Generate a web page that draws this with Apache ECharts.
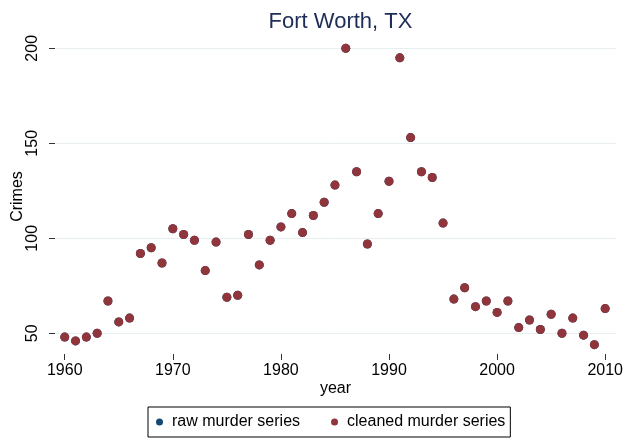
<!DOCTYPE html>
<html>
<head>
<meta charset="utf-8">
<script src="https://cdn.jsdelivr.net/npm/echarts@6/dist/echarts.min.js"></script>
<style>
  html, body { margin: 0; padding: 0; background: #fff; }
  #chart { width: 636px; height: 438px; }
</style>
</head>
<body>
<div id="chart"></div>
<script>
// data
const years = [1960, 1961, 1962, 1963, 1964, 1965, 1966, 1967, 1968, 1969,
  1970, 1971, 1972, 1973, 1974, 1975, 1976, 1977, 1978, 1979,
  1980, 1981, 1982, 1983, 1984, 1985, 1986, 1987, 1988, 1989,
  1990, 1991, 1992, 1993, 1994, 1995, 1996, 1997, 1998, 1999,
  2000, 2001, 2002, 2003, 2004, 2005, 2006, 2007, 2008, 2009, 2010]
const rawMurders = [48, 46, 48, 50, 67, 56, 58, 92, 95, 87,
  105, 102, 99, 83, 98, 69, 70, 102, 86, 99,
  106, 113, 103, 112, 119, 128, 200, 135, 97, 113,
  130, 195, 153, 135, 132, 108, 68, 74, 64, 67,
  61, 67, 53, 57, 52, 60, 50, 58, 49, 44, 63]
const cleanedMurders = [48, 46, 48, 50, 67, 56, 58, 92, 95, 87,
  105, 102, 99, 83, 98, 69, 70, 102, 86, 99,
  106, 113, 103, 112, 119, 128, 200, 135, 97, 113,
  130, 195, 153, 135, 132, 108, 68, 74, 64, 67,
  61, 67, 53, 57, 52, 60, 50, 58, 49, 44, 63]
const yTicks = [50, 100, 150, 200]
const xTicks = [1960, 1970, 1980, 1990, 2000, 2010]

const font = "'Liberation Sans', Arial, sans-serif"
const chart = echarts.init(document.getElementById('chart'))

const option = {
  animation: false,
  textStyle: { fontFamily: font },
  title: {
    text: 'Fort Worth, TX',
    left: 335.5,
    textAlign: 'center',
    top: 6,
    textStyle: { fontFamily: font, fontSize: 22, fontWeight: 'normal', color: '#1e2d58' }
  },
  grid: { left: 55, right: 20, top: 39, bottom: 84, outerBoundsMode: 'none', containLabel: false },
  legend: {
    left: 148,
    top: 407,
    orient: 'horizontal',
    borderColor: '#000',
    borderWidth: 1,
    borderRadius: 0,
    padding: [7, 5, 7, 8],
    itemWidth: 15,
    itemHeight: 7,
    itemGap: 31,
    icon: 'circle',
    textStyle: { fontFamily: font, fontSize: 16, color: '#000' },
    data: ['raw murder series', 'cleaned murder series']
  },
  xAxis: {
    type: 'value',
    min: 1959.1,
    max: 2011,
    name: 'year',
    nameLocation: 'middle',
    nameGap: 27,
    nameMoveOverlap: false,
    nameTextStyle: { fontFamily: font, fontSize: 16, color: '#000' },
    axisLine: { show: false },
    axisTick: { show: true, length: 6, customValues: xTicks, lineStyle: { color: '#333' } },
    axisLabel: {
      customValues: xTicks, margin: 9, fontSize: 16, color: '#000', fontFamily: font,
      formatter: v => String(v)
    },
    splitLine: { show: false }
  },
  yAxis: {
    type: 'value',
    min: 39.1,
    max: 204.9,
    name: 'Crimes',
    nameLocation: 'middle',
    nameGap: 29,
    nameMoveOverlap: false,
    nameTextStyle: { fontFamily: font, fontSize: 16, color: '#000' },
    axisLine: { show: false },
    axisTick: { show: true, length: 6, customValues: yTicks, lineStyle: { color: '#333' } },
    axisLabel: { customValues: yTicks, rotate: 90, margin: 14, fontSize: 16, color: '#000', fontFamily: font },
    splitLine: { show: true, lineStyle: { color: '#e6eef0', width: 1 } }
  },
  series: [
    {
      name: 'raw murder series',
      type: 'scatter',
      symbolSize: 9,
      itemStyle: { color: '#1a476f', opacity: 1 },
      data: years.map((y, i) => [y, rawMurders[i]])
    },
    {
      name: 'cleaned murder series',
      type: 'scatter',
      symbolSize: 9,
      itemStyle: { color: '#90353b', opacity: 1 },
      data: years.map((y, i) => [y, cleanedMurders[i]])
    }
  ]
}
chart.setOption(option)
</script>
</body>
</html>
